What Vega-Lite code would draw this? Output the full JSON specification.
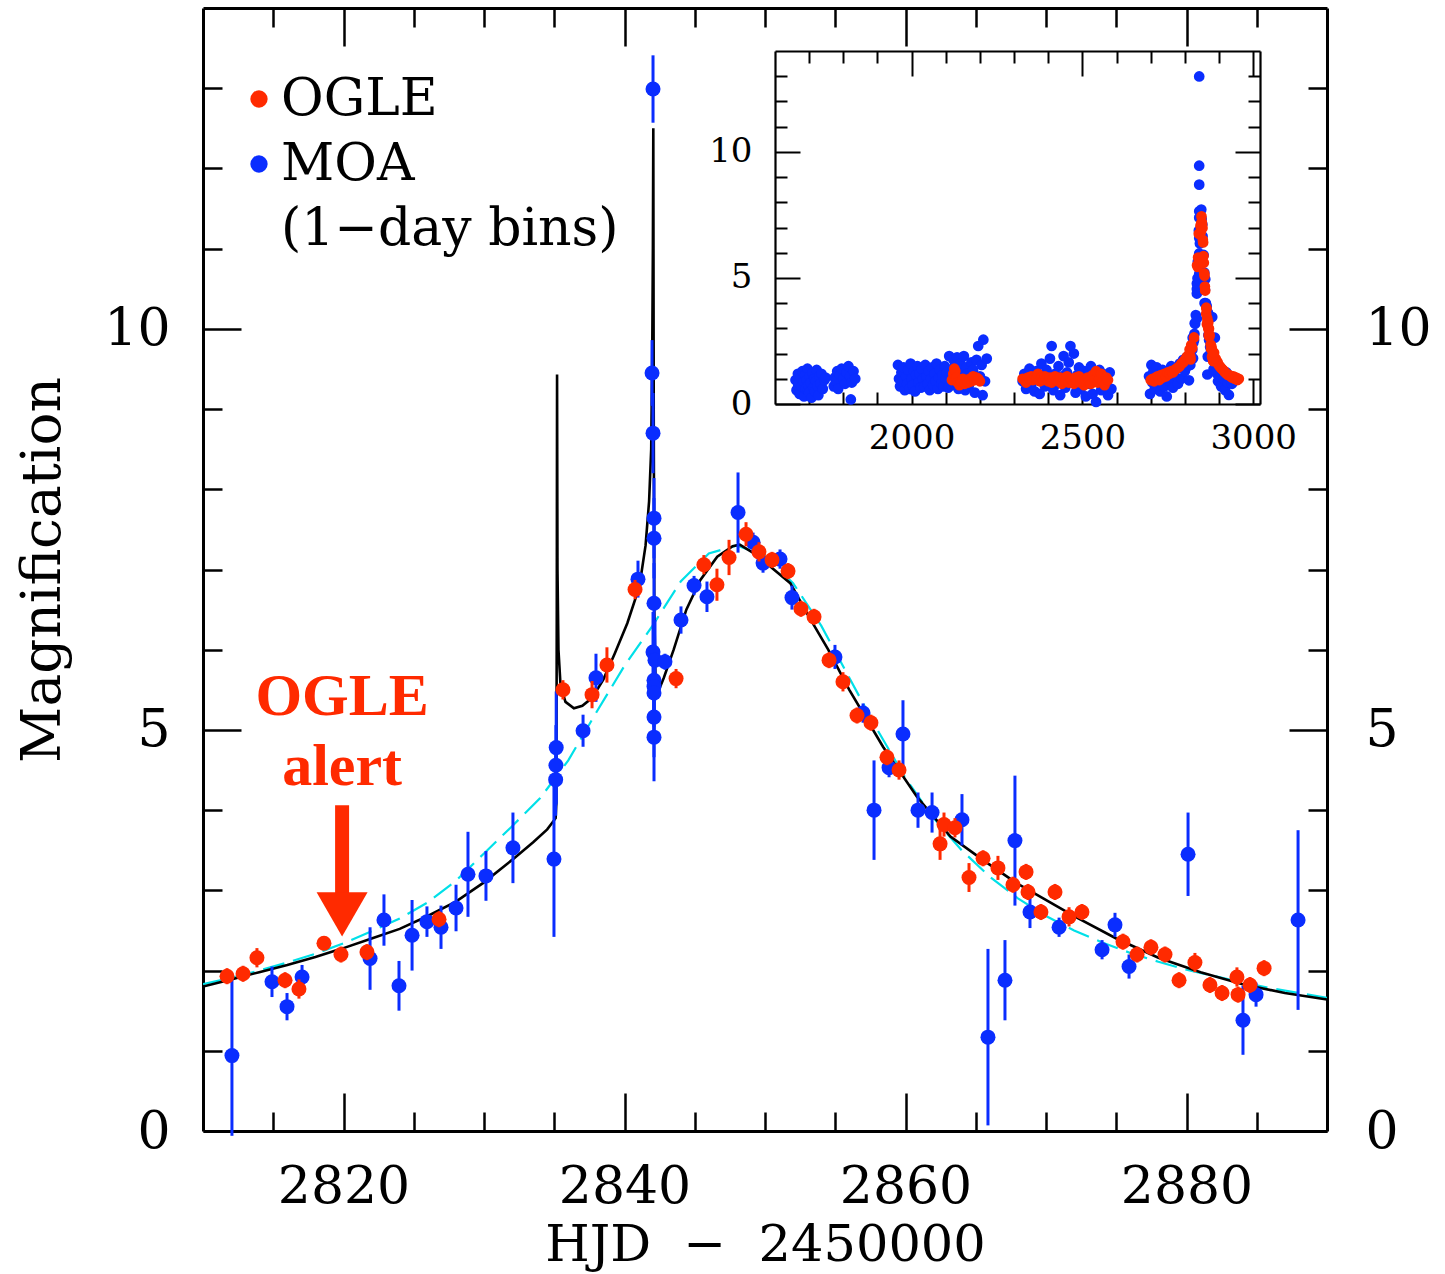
{
  "$schema": "https://vega.github.io/schema/vega-lite/v6.json",
  "width": 1124,
  "height": 1123,
  "autosize": "none",
  "padding": {"left": 203, "top": 8, "right": 118, "bottom": 143},
  "background": "white",
  "config": {
    "view": {"stroke": null},
    "font": "DejaVu Serif",
    "axis": {"grid": false, "domainColor": "black", "tickColor": "black", "labelColor": "black", "titleColor": "black", "labelFont": "DejaVu Serif", "titleFont": "DejaVu Serif", "titleFontWeight": "normal", "labelFlush": false, "labelOverlap": false, "labelBound": false, "format": "d"}
  },
  "datasets": {
    "ogle": [
      {"t": 2811.71, "mag": 1.93, "err": 0.1}, {"t": 2812.85, "mag": 1.96, "err": 0.1}, {"t": 2813.84, "mag": 2.16, "err": 0.12},
      {"t": 2815.84, "mag": 1.88, "err": 0.1}, {"t": 2816.83, "mag": 1.77, "err": 0.12}, {"t": 2818.61, "mag": 2.34, "err": 0.08},
      {"t": 2819.82, "mag": 2.2, "err": 0.1}, {"t": 2821.67, "mag": 2.23, "err": 0.1}, {"t": 2826.8, "mag": 2.64, "err": 0.1},
      {"t": 2835.62, "mag": 5.5, "err": 0.12}, {"t": 2837.69, "mag": 5.44, "err": 0.17}, {"t": 2838.75, "mag": 5.81, "err": 0.22},
      {"t": 2840.75, "mag": 6.75, "err": 0.12}, {"t": 2843.67, "mag": 5.64, "err": 0.12}, {"t": 2845.65, "mag": 7.06, "err": 0.12},
      {"t": 2846.58, "mag": 6.81, "err": 0.2}, {"t": 2847.44, "mag": 7.15, "err": 0.22}, {"t": 2848.65, "mag": 7.44, "err": 0.15},
      {"t": 2849.57, "mag": 7.22, "err": 0.12}, {"t": 2850.5, "mag": 7.12, "err": 0.1}, {"t": 2851.64, "mag": 6.98, "err": 0.1},
      {"t": 2852.56, "mag": 6.51, "err": 0.1}, {"t": 2853.49, "mag": 6.41, "err": 0.1}, {"t": 2854.56, "mag": 5.87, "err": 0.1},
      {"t": 2855.55, "mag": 5.6, "err": 0.12}, {"t": 2856.55, "mag": 5.18, "err": 0.1}, {"t": 2857.54, "mag": 5.09, "err": 0.1},
      {"t": 2858.68, "mag": 4.66, "err": 0.1}, {"t": 2859.54, "mag": 4.5, "err": 0.12}, {"t": 2862.46, "mag": 3.58, "err": 0.2},
      {"t": 2862.74, "mag": 3.82, "err": 0.15}, {"t": 2863.52, "mag": 3.78, "err": 0.12}, {"t": 2864.52, "mag": 3.16, "err": 0.18},
      {"t": 2865.52, "mag": 3.4, "err": 0.1}, {"t": 2866.58, "mag": 3.28, "err": 0.15}, {"t": 2867.65, "mag": 3.07, "err": 0.1},
      {"t": 2868.58, "mag": 3.23, "err": 0.1}, {"t": 2868.72, "mag": 2.98, "err": 0.1}, {"t": 2869.64, "mag": 2.73, "err": 0.1},
      {"t": 2870.64, "mag": 2.98, "err": 0.1}, {"t": 2871.64, "mag": 2.67, "err": 0.12}, {"t": 2872.56, "mag": 2.73, "err": 0.1},
      {"t": 2875.48, "mag": 2.36, "err": 0.1}, {"t": 2876.48, "mag": 2.2, "err": 0.1}, {"t": 2877.47, "mag": 2.29, "err": 0.1},
      {"t": 2878.47, "mag": 2.2, "err": 0.1}, {"t": 2879.47, "mag": 1.88, "err": 0.1}, {"t": 2880.6, "mag": 2.1, "err": 0.12},
      {"t": 2881.67, "mag": 1.82, "err": 0.1}, {"t": 2882.53, "mag": 1.72, "err": 0.1}, {"t": 2883.59, "mag": 1.92, "err": 0.12},
      {"t": 2883.67, "mag": 1.7, "err": 0.1}, {"t": 2884.52, "mag": 1.82, "err": 0.1}, {"t": 2885.52, "mag": 2.03, "err": 0.1}
    ],
    "moa": [
      {"t": 2812.06, "mag": 0.94, "err": 1.0}, {"t": 2814.91, "mag": 1.86, "err": 0.19}, {"t": 2815.98, "mag": 1.55, "err": 0.17},
      {"t": 2817.05, "mag": 1.92, "err": 0.15}, {"t": 2821.89, "mag": 2.15, "err": 0.39}, {"t": 2822.88, "mag": 2.63, "err": 0.32},
      {"t": 2823.95, "mag": 1.81, "err": 0.31}, {"t": 2824.88, "mag": 2.44, "err": 0.44}, {"t": 2825.94, "mag": 2.61, "err": 0.19},
      {"t": 2826.94, "mag": 2.54, "err": 0.27}, {"t": 2828.01, "mag": 2.78, "err": 0.29}, {"t": 2828.86, "mag": 3.2, "err": 0.53},
      {"t": 2830.14, "mag": 3.18, "err": 0.31}, {"t": 2832.06, "mag": 3.53, "err": 0.44}, {"t": 2834.98, "mag": 3.39, "err": 0.97},
      {"t": 2835.1, "mag": 4.38, "err": 0.45}, {"t": 2835.12, "mag": 4.56, "err": 0.5}, {"t": 2835.14, "mag": 4.78, "err": 0.7},
      {"t": 2837.05, "mag": 4.99, "err": 0.2}, {"t": 2837.97, "mag": 5.65, "err": 0.3}, {"t": 2840.96, "mag": 6.88, "err": 0.23},
      {"t": 2842.03, "mag": 12.99, "err": 0.42}, {"t": 2841.96, "mag": 9.45, "err": 0.41}, {"t": 2842.03, "mag": 8.7, "err": 0.5},
      {"t": 2842.1, "mag": 7.64, "err": 0.5}, {"t": 2842.1, "mag": 7.39, "err": 0.5}, {"t": 2842.1, "mag": 6.58, "err": 0.5},
      {"t": 2842.03, "mag": 5.97, "err": 0.5}, {"t": 2842.17, "mag": 5.87, "err": 0.5}, {"t": 2842.1, "mag": 5.62, "err": 0.5},
      {"t": 2842.1, "mag": 5.54, "err": 0.5}, {"t": 2842.1, "mag": 5.46, "err": 0.5}, {"t": 2842.1, "mag": 5.16, "err": 0.5},
      {"t": 2842.1, "mag": 4.91, "err": 0.55}, {"t": 2842.88, "mag": 5.85, "err": 0.1}, {"t": 2844.02, "mag": 6.37, "err": 0.17},
      {"t": 2844.95, "mag": 6.8, "err": 0.12}, {"t": 2845.87, "mag": 6.66, "err": 0.19}, {"t": 2848.08, "mag": 7.71, "err": 0.5},
      {"t": 2849.15, "mag": 7.34, "err": 0.12}, {"t": 2849.86, "mag": 7.08, "err": 0.12}, {"t": 2851.07, "mag": 7.13, "err": 0.12},
      {"t": 2851.92, "mag": 6.65, "err": 0.15}, {"t": 2854.98, "mag": 5.91, "err": 0.15}, {"t": 2856.98, "mag": 5.21, "err": 0.12},
      {"t": 2857.76, "mag": 4.0, "err": 0.62}, {"t": 2858.83, "mag": 4.53, "err": 0.12}, {"t": 2859.82, "mag": 4.95, "err": 0.42},
      {"t": 2860.89, "mag": 4.0, "err": 0.22}, {"t": 2861.89, "mag": 3.97, "err": 0.25}, {"t": 2864.02, "mag": 3.88, "err": 0.32},
      {"t": 2865.87, "mag": 1.17, "err": 1.1}, {"t": 2867.08, "mag": 1.88, "err": 0.5}, {"t": 2867.79, "mag": 3.62, "err": 0.81},
      {"t": 2868.86, "mag": 2.73, "err": 0.2}, {"t": 2870.93, "mag": 2.54, "err": 0.12}, {"t": 2873.99, "mag": 2.26, "err": 0.12},
      {"t": 2874.91, "mag": 2.57, "err": 0.15}, {"t": 2875.91, "mag": 2.05, "err": 0.15}, {"t": 2880.11, "mag": 3.45, "err": 0.52},
      {"t": 2884.02, "mag": 1.38, "err": 0.43}, {"t": 2884.95, "mag": 1.7, "err": 0.15}, {"t": 2887.94, "mag": 2.63, "err": 1.12}
    ],
    "model": [
      {"t": 2810, "mag": 1.8}, {"t": 2812, "mag": 1.89}, {"t": 2814, "mag": 1.98}, {"t": 2816, "mag": 2.07},
      {"t": 2818, "mag": 2.17}, {"t": 2820, "mag": 2.28}, {"t": 2822, "mag": 2.4}, {"t": 2824, "mag": 2.52},
      {"t": 2826, "mag": 2.68}, {"t": 2828, "mag": 2.86}, {"t": 2830, "mag": 3.1}, {"t": 2832, "mag": 3.38},
      {"t": 2833.5, "mag": 3.6}, {"t": 2834.5, "mag": 3.76}, {"t": 2835.1, "mag": 3.9}, {"t": 2835.15, "mag": 4.1},
      {"t": 2835.18, "mag": 6.5}, {"t": 2835.2, "mag": 9.43}, {"t": 2835.23, "mag": 7.0}, {"t": 2835.3, "mag": 6.0},
      {"t": 2835.45, "mag": 5.55}, {"t": 2835.8, "mag": 5.35}, {"t": 2836.4, "mag": 5.27}, {"t": 2837.0, "mag": 5.3},
      {"t": 2837.7, "mag": 5.4}, {"t": 2838.5, "mag": 5.63}, {"t": 2839.3, "mag": 5.95}, {"t": 2840.2, "mag": 6.33},
      {"t": 2840.8, "mag": 6.65}, {"t": 2841.2, "mag": 6.95}, {"t": 2841.5, "mag": 7.3}, {"t": 2841.75, "mag": 7.85},
      {"t": 2841.9, "mag": 8.5}, {"t": 2841.97, "mag": 9.6}, {"t": 2842.02, "mag": 11.0}, {"t": 2842.05, "mag": 12.5},
      {"t": 2842.08, "mag": 9.0}, {"t": 2842.12, "mag": 6.5}, {"t": 2842.2, "mag": 5.7}, {"t": 2842.45, "mag": 5.5},
      {"t": 2842.8, "mag": 5.65}, {"t": 2843.5, "mag": 6.0}, {"t": 2844.4, "mag": 6.5}, {"t": 2845.4, "mag": 6.87},
      {"t": 2846.6, "mag": 7.16}, {"t": 2847.7, "mag": 7.29}, {"t": 2848.2, "mag": 7.31}, {"t": 2849.6, "mag": 7.16},
      {"t": 2850.5, "mag": 7.02}, {"t": 2851.8, "mag": 6.83}, {"t": 2853, "mag": 6.45}, {"t": 2854.5, "mag": 6.0},
      {"t": 2856, "mag": 5.5}, {"t": 2858.4, "mag": 4.79}, {"t": 2860.8, "mag": 4.17}, {"t": 2863.2, "mag": 3.67},
      {"t": 2865.5, "mag": 3.38}, {"t": 2867.9, "mag": 3.09}, {"t": 2869.8, "mag": 2.9}, {"t": 2872, "mag": 2.68},
      {"t": 2875, "mag": 2.4}, {"t": 2878, "mag": 2.16}, {"t": 2881, "mag": 1.98}, {"t": 2884, "mag": 1.83},
      {"t": 2887, "mag": 1.72}, {"t": 2890, "mag": 1.64}
    ],
    "single": [
      {"t": 2810, "mag": 1.83}, {"t": 2812, "mag": 1.91}, {"t": 2814, "mag": 2.0}, {"t": 2816, "mag": 2.1},
      {"t": 2818, "mag": 2.21}, {"t": 2820, "mag": 2.34}, {"t": 2822, "mag": 2.49}, {"t": 2824, "mag": 2.65},
      {"t": 2826, "mag": 2.85}, {"t": 2828, "mag": 3.12}, {"t": 2830, "mag": 3.46}, {"t": 2832, "mag": 3.8},
      {"t": 2834, "mag": 4.15}, {"t": 2836, "mag": 4.62}, {"t": 2838, "mag": 5.22}, {"t": 2840, "mag": 5.8},
      {"t": 2842, "mag": 6.3}, {"t": 2844, "mag": 6.85}, {"t": 2846, "mag": 7.2}, {"t": 2848, "mag": 7.3},
      {"t": 2850, "mag": 7.17}, {"t": 2852, "mag": 6.83}, {"t": 2854, "mag": 6.3}, {"t": 2856, "mag": 5.65},
      {"t": 2858, "mag": 5.0}, {"t": 2860, "mag": 4.4}, {"t": 2862, "mag": 3.9}, {"t": 2864, "mag": 3.5},
      {"t": 2866, "mag": 3.17}, {"t": 2868, "mag": 2.9}, {"t": 2870, "mag": 2.68}, {"t": 2872, "mag": 2.5},
      {"t": 2874, "mag": 2.35}, {"t": 2876, "mag": 2.22}, {"t": 2878, "mag": 2.11}, {"t": 2880, "mag": 2.01},
      {"t": 2883, "mag": 1.89}, {"t": 2886, "mag": 1.78}, {"t": 2890, "mag": 1.66}
    ],
    "moa_base": [
      {"t": 1660, "mag": 0.95}, {"t": 1663, "mag": 0.55}, {"t": 1667, "mag": 1.2}, {"t": 1668, "mag": 0.75}, {"t": 1670, "mag": 0.85},
      {"t": 1672, "mag": 0.4}, {"t": 1675, "mag": 1.05}, {"t": 1678, "mag": 0.7}, {"t": 1680, "mag": 1.3}, {"t": 1683, "mag": 0.9},
      {"t": 1685, "mag": 0.3}, {"t": 1688, "mag": 1.15}, {"t": 1690, "mag": 0.6}, {"t": 1693, "mag": 0.95}, {"t": 1695, "mag": 1.4},
      {"t": 1697, "mag": 0.55}, {"t": 1698, "mag": 0.75}, {"t": 1700, "mag": 0.45}, {"t": 1702, "mag": 1.1}, {"t": 1705, "mag": 0.85},
      {"t": 1707, "mag": 0.25}, {"t": 1710, "mag": 1.25}, {"t": 1712, "mag": 0.65}, {"t": 1715, "mag": 1.0}, {"t": 1717, "mag": 0.5},
      {"t": 1720, "mag": 0.9}, {"t": 1722, "mag": 1.35}, {"t": 1725, "mag": 0.7}, {"t": 1727, "mag": 0.35}, {"t": 1730, "mag": 1.1},
      {"t": 1733, "mag": 0.8}, {"t": 1736, "mag": 1.2}, {"t": 1740, "mag": 0.6}, {"t": 1745, "mag": 0.95}, {"t": 1748, "mag": 1.05},
      {"t": 1772, "mag": 0.7}, {"t": 1775, "mag": 1.05}, {"t": 1778, "mag": 0.9}, {"t": 1782, "mag": 1.3}, {"t": 1785, "mag": 0.6},
      {"t": 1790, "mag": 1.15}, {"t": 1795, "mag": 1.4}, {"t": 1800, "mag": 1.0}, {"t": 1805, "mag": 0.8}, {"t": 1810, "mag": 1.25},
      {"t": 1815, "mag": 1.5}, {"t": 1820, "mag": 1.1}, {"t": 1822, "mag": 0.18}, {"t": 1825, "mag": 0.85}, {"t": 1830, "mag": 1.3},
      {"t": 1835, "mag": 1.0},
      {"t": 1960, "mag": 1.55}, {"t": 1963, "mag": 1.0}, {"t": 1966, "mag": 0.7}, {"t": 1970, "mag": 1.25}, {"t": 1973, "mag": 0.9},
      {"t": 1977, "mag": 1.45}, {"t": 1980, "mag": 0.55}, {"t": 1984, "mag": 1.1}, {"t": 1987, "mag": 0.8}, {"t": 1990, "mag": 1.35},
      {"t": 1994, "mag": 0.6}, {"t": 1997, "mag": 1.6}, {"t": 2000, "mag": 1.0}, {"t": 2003, "mag": 0.75}, {"t": 2007, "mag": 1.3},
      {"t": 2010, "mag": 0.5}, {"t": 2013, "mag": 1.15}, {"t": 2017, "mag": 1.5}, {"t": 2020, "mag": 0.85}, {"t": 2023, "mag": 1.2},
      {"t": 2027, "mag": 0.65}, {"t": 2030, "mag": 1.4}, {"t": 2033, "mag": 1.0}, {"t": 2037, "mag": 0.7}, {"t": 2040, "mag": 1.55},
      {"t": 2043, "mag": 1.1}, {"t": 2047, "mag": 0.8}, {"t": 2050, "mag": 1.3}, {"t": 2053, "mag": 0.55}, {"t": 2057, "mag": 1.0},
      {"t": 2060, "mag": 1.45}, {"t": 2063, "mag": 0.75}, {"t": 2067, "mag": 1.2}, {"t": 2070, "mag": 0.9}, {"t": 2073, "mag": 1.6},
      {"t": 2077, "mag": 0.6}, {"t": 2080, "mag": 1.05}, {"t": 2083, "mag": 1.35}, {"t": 2087, "mag": 0.8}, {"t": 2090, "mag": 1.15},
      {"t": 2093, "mag": 0.7}, {"t": 2097, "mag": 1.5}, {"t": 2100, "mag": 1.0}, {"t": 2103, "mag": 1.25}, {"t": 2107, "mag": 0.65},
      {"t": 2110, "mag": 1.9}, {"t": 2113, "mag": 1.1}, {"t": 2117, "mag": 0.75}, {"t": 2120, "mag": 1.4}, {"t": 2123, "mag": 1.75},
      {"t": 2127, "mag": 0.9}, {"t": 2130, "mag": 1.2}, {"t": 2133, "mag": 1.85}, {"t": 2137, "mag": 0.6}, {"t": 2140, "mag": 1.3},
      {"t": 2143, "mag": 1.6}, {"t": 2147, "mag": 0.85}, {"t": 2150, "mag": 1.05}, {"t": 2153, "mag": 1.9}, {"t": 2157, "mag": 0.55},
      {"t": 2160, "mag": 1.45}, {"t": 2163, "mag": 1.2}, {"t": 2167, "mag": 0.7}, {"t": 2170, "mag": 1.0}, {"t": 2175, "mag": 1.65},
      {"t": 2180, "mag": 1.35}, {"t": 2185, "mag": 0.45}, {"t": 2190, "mag": 1.75}, {"t": 2195, "mag": 2.3}, {"t": 2200, "mag": 1.1},
      {"t": 2205, "mag": 1.55}, {"t": 2208, "mag": 0.35}, {"t": 2210, "mag": 2.55}, {"t": 2215, "mag": 0.9}, {"t": 2220, "mag": 1.8},
      {"t": 2325, "mag": 0.9}, {"t": 2330, "mag": 1.2}, {"t": 2335, "mag": 0.6}, {"t": 2340, "mag": 1.05}, {"t": 2345, "mag": 1.4},
      {"t": 2350, "mag": 0.75}, {"t": 2355, "mag": 1.15}, {"t": 2360, "mag": 0.5}, {"t": 2365, "mag": 1.3}, {"t": 2370, "mag": 0.95},
      {"t": 2375, "mag": 0.4}, {"t": 2380, "mag": 1.6}, {"t": 2385, "mag": 1.05}, {"t": 2390, "mag": 0.7}, {"t": 2395, "mag": 1.35},
      {"t": 2400, "mag": 0.9}, {"t": 2405, "mag": 1.8}, {"t": 2410, "mag": 2.3}, {"t": 2415, "mag": 0.55}, {"t": 2420, "mag": 1.2},
      {"t": 2425, "mag": 0.8}, {"t": 2430, "mag": 1.5}, {"t": 2435, "mag": 0.35}, {"t": 2440, "mag": 1.1}, {"t": 2445, "mag": 1.9},
      {"t": 2450, "mag": 0.65}, {"t": 2455, "mag": 1.25}, {"t": 2460, "mag": 1.65}, {"t": 2465, "mag": 2.3}, {"t": 2470, "mag": 0.85},
      {"t": 2475, "mag": 2.0}, {"t": 2480, "mag": 0.45}, {"t": 2485, "mag": 1.15}, {"t": 2490, "mag": 1.45}, {"t": 2495, "mag": 0.6},
      {"t": 2500, "mag": 1.0}, {"t": 2505, "mag": 1.3}, {"t": 2510, "mag": 0.3}, {"t": 2515, "mag": 1.2}, {"t": 2520, "mag": 0.8},
      {"t": 2525, "mag": 1.5}, {"t": 2530, "mag": 0.4}, {"t": 2535, "mag": 1.1}, {"t": 2540, "mag": 0.08}, {"t": 2545, "mag": 0.95},
      {"t": 2550, "mag": 1.35}, {"t": 2555, "mag": 0.55}, {"t": 2560, "mag": 1.2}, {"t": 2565, "mag": 0.75}, {"t": 2570, "mag": 1.0},
      {"t": 2575, "mag": 0.35}, {"t": 2580, "mag": 1.25}, {"t": 2585, "mag": 0.6},
      {"t": 2695, "mag": 1.1}, {"t": 2698, "mag": 0.4}, {"t": 2702, "mag": 1.55}, {"t": 2705, "mag": 0.85}, {"t": 2708, "mag": 1.3},
      {"t": 2712, "mag": 0.6}, {"t": 2715, "mag": 1.05}, {"t": 2718, "mag": 1.45}, {"t": 2722, "mag": 0.75}, {"t": 2725, "mag": 1.2},
      {"t": 2728, "mag": 0.5}, {"t": 2732, "mag": 0.95}, {"t": 2735, "mag": 1.35}, {"t": 2740, "mag": 0.7}, {"t": 2743, "mag": 1.1},
      {"t": 2747, "mag": 0.3}, {"t": 2750, "mag": 1.25}, {"t": 2755, "mag": 0.9}, {"t": 2760, "mag": 1.5}, {"t": 2765, "mag": 0.65},
      {"t": 2770, "mag": 1.15}, {"t": 2775, "mag": 1.4}, {"t": 2780, "mag": 0.8}, {"t": 2785, "mag": 1.6}, {"t": 2790, "mag": 1.0},
      {"t": 2795, "mag": 1.75}, {"t": 2800, "mag": 1.3}, {"t": 2805, "mag": 1.85}, {"t": 2808, "mag": 1.5},
      {"t": 2891, "mag": 1.7}, {"t": 2894, "mag": 1.2}, {"t": 2897, "mag": 0.9}, {"t": 2900, "mag": 1.5}, {"t": 2903, "mag": 1.05},
      {"t": 2906, "mag": 0.7}, {"t": 2910, "mag": 1.3}, {"t": 2914, "mag": 1.0}, {"t": 2918, "mag": 0.55}, {"t": 2922, "mag": 1.25},
      {"t": 2926, "mag": 0.85}, {"t": 2929, "mag": 0.36}, {"t": 2933, "mag": 1.1}, {"t": 2938, "mag": 0.8}, {"t": 2942, "mag": 1.0}
    ],
    "ogle_base": [
      {"t": 2118, "mag": 0.95}, {"t": 2122, "mag": 1.2}, {"t": 2125, "mag": 1.4}, {"t": 2128, "mag": 1.3}, {"t": 2131, "mag": 1.05},
      {"t": 2135, "mag": 0.85}, {"t": 2140, "mag": 0.75}, {"t": 2145, "mag": 0.9}, {"t": 2150, "mag": 1.0}, {"t": 2155, "mag": 0.8},
      {"t": 2160, "mag": 0.95}, {"t": 2165, "mag": 0.85}, {"t": 2170, "mag": 1.0}, {"t": 2175, "mag": 0.9}, {"t": 2180, "mag": 1.1},
      {"t": 2185, "mag": 0.95}, {"t": 2190, "mag": 1.05}, {"t": 2195, "mag": 1.0}, {"t": 2200, "mag": 0.9},
      {"t": 2325, "mag": 1.0}, {"t": 2330, "mag": 0.95}, {"t": 2335, "mag": 0.85}, {"t": 2340, "mag": 1.05}, {"t": 2345, "mag": 1.0},
      {"t": 2350, "mag": 1.1}, {"t": 2355, "mag": 0.95}, {"t": 2360, "mag": 1.05}, {"t": 2365, "mag": 1.0}, {"t": 2370, "mag": 1.2},
      {"t": 2375, "mag": 0.9}, {"t": 2380, "mag": 1.05}, {"t": 2385, "mag": 0.95}, {"t": 2390, "mag": 1.1}, {"t": 2395, "mag": 1.0},
      {"t": 2400, "mag": 0.9}, {"t": 2405, "mag": 1.05}, {"t": 2410, "mag": 0.85}, {"t": 2415, "mag": 1.0}, {"t": 2420, "mag": 1.1},
      {"t": 2425, "mag": 0.95}, {"t": 2430, "mag": 0.9}, {"t": 2435, "mag": 1.05}, {"t": 2440, "mag": 0.8}, {"t": 2445, "mag": 1.0},
      {"t": 2450, "mag": 0.9}, {"t": 2455, "mag": 1.1}, {"t": 2460, "mag": 0.85}, {"t": 2465, "mag": 1.0}, {"t": 2470, "mag": 0.95},
      {"t": 2475, "mag": 0.8}, {"t": 2480, "mag": 1.05}, {"t": 2485, "mag": 0.9}, {"t": 2490, "mag": 1.1}, {"t": 2495, "mag": 0.85},
      {"t": 2500, "mag": 1.0}, {"t": 2505, "mag": 0.75}, {"t": 2510, "mag": 0.95}, {"t": 2515, "mag": 1.05}, {"t": 2520, "mag": 0.9},
      {"t": 2525, "mag": 0.8}, {"t": 2530, "mag": 1.15}, {"t": 2535, "mag": 0.95}, {"t": 2540, "mag": 1.3}, {"t": 2545, "mag": 0.85},
      {"t": 2550, "mag": 1.0}, {"t": 2555, "mag": 1.2}, {"t": 2560, "mag": 0.9}, {"t": 2565, "mag": 0.75}, {"t": 2570, "mag": 1.05},
      {"t": 2575, "mag": 0.95},
      {"t": 2700, "mag": 0.95}, {"t": 2705, "mag": 1.0}, {"t": 2710, "mag": 0.9}, {"t": 2715, "mag": 1.05}, {"t": 2720, "mag": 1.1},
      {"t": 2725, "mag": 0.95}, {"t": 2730, "mag": 1.15}, {"t": 2735, "mag": 1.05}, {"t": 2740, "mag": 1.2}, {"t": 2745, "mag": 1.1},
      {"t": 2750, "mag": 1.25}, {"t": 2755, "mag": 1.2}, {"t": 2760, "mag": 1.3}, {"t": 2765, "mag": 1.25}, {"t": 2770, "mag": 1.35},
      {"t": 2775, "mag": 1.4}, {"t": 2780, "mag": 1.45}, {"t": 2785, "mag": 1.5}, {"t": 2790, "mag": 1.6}, {"t": 2795, "mag": 1.65},
      {"t": 2800, "mag": 1.75}, {"t": 2805, "mag": 1.85}, {"t": 2808, "mag": 1.9},
      {"t": 2890, "mag": 1.8}, {"t": 2893, "mag": 1.7}, {"t": 2896, "mag": 1.65}, {"t": 2899, "mag": 1.55}, {"t": 2902, "mag": 1.5},
      {"t": 2905, "mag": 1.45}, {"t": 2908, "mag": 1.4}, {"t": 2912, "mag": 1.35}, {"t": 2915, "mag": 1.3}, {"t": 2918, "mag": 1.25},
      {"t": 2922, "mag": 1.2}, {"t": 2926, "mag": 1.15}, {"t": 2930, "mag": 1.15}, {"t": 2934, "mag": 1.1}, {"t": 2938, "mag": 1.05},
      {"t": 2942, "mag": 1.1}, {"t": 2946, "mag": 1.0}, {"t": 2950, "mag": 1.05}, {"t": 2954, "mag": 0.95}, {"t": 2958, "mag": 1.0}
    ]
  },
  "resolve": {"scale": {"x": "independent", "y": "independent"}},
  "layer": [
    {
      "resolve": {"axis": {"x": "independent", "y": "independent"}},
      "layer": [
        {
          "data": {"name": "single"},
          "mark": {"type": "line", "color": "#00e0e8", "strokeWidth": 2.2, "strokeDash": [22, 9], "clip": true},
          "encoding": {
            "x": {"field": "t", "type": "quantitative", "scale": {"domain": [2810, 2890], "nice": false, "zero": false},
              "axis": {"orient": "bottom", "values": [2820, 2840, 2860, 2880], "format": "d", "tickSize": -38, "tickWidth": 2.5, "domainWidth": 3, "labelFontSize": 52, "labelPadding": 68, "title": "HJD\u00a0\u00a0\u2212\u00a0\u00a02450000", "titleFontSize": 51, "titlePadding": 8}},
            "y": {"field": "mag", "type": "quantitative", "scale": {"domain": [0, 14], "nice": false, "zero": false},
              "axis": {"orient": "left", "values": [0, 5, 10], "format": "d", "tickSize": -38, "tickWidth": 2.5, "domainWidth": 3, "labelFontSize": 52, "labelPadding": 71, "title": "Magnification", "titleFontSize": 55, "titlePadding": 32}}
          }
        },
        {
          "data": {"name": "model"},
          "mark": {"type": "line", "color": "black", "strokeWidth": 2.6, "clip": true},
          "encoding": {
            "x": {"field": "t", "type": "quantitative",
              "axis": {"orient": "bottom", "values": [2815, 2825, 2830, 2835, 2845, 2850, 2855, 2865, 2870, 2875, 2885], "tickSize": -19, "tickWidth": 2.5, "labels": false, "domain": false, "title": null}},
            "y": {"field": "mag", "type": "quantitative",
              "axis": {"orient": "left", "values": [1, 2, 3, 4, 6, 7, 8, 9, 11, 12, 13], "tickSize": -19, "tickWidth": 2.5, "labels": false, "domain": false, "title": null}}
          }
        },
        {
          "data": {"name": "moa"},
          "mark": {"type": "errorbar", "color": "#0a2dff", "thickness": 3},
          "encoding": {
            "x": {"field": "t", "type": "quantitative", "axis": null},
            "y": {"field": "mag", "type": "quantitative", "axis": null},
            "yError": {"field": "err"}
          }
        },
        {
          "data": {"name": "moa"},
          "mark": {"type": "circle", "size": 225, "opacity": 1},
          "encoding": {
            "x": {"field": "t", "type": "quantitative",
              "axis": {"orient": "top", "values": [2820, 2840, 2860, 2880], "tickSize": -38, "tickWidth": 2.5, "domainWidth": 3, "labels": false, "title": null}},
            "y": {"field": "mag", "type": "quantitative",
              "axis": {"orient": "right", "values": [0, 5, 10], "format": "d", "tickSize": -38, "tickWidth": 2.5, "domainWidth": 3, "labelFontSize": 52, "labelPadding": 76, "title": null}},
            "color": {"datum": "MOA", "type": "nominal",
              "scale": {"domain": ["OGLE", "MOA", "(1\u2212day bins)"], "range": ["#ff2a00", "#0a2dff", "rgba(0,0,0,0)"]},
              "legend": {"orient": "none", "legendX": 30, "legendY": 65, "title": null, "labelFont": "DejaVu Serif", "labelFontSize": 52, "labelColor": "black", "labelLimit": 600, "symbolType": "circle", "symbolSize": 300, "symbolStrokeWidth": 0, "symbolOpacity": 1, "rowPadding": 13, "labelOffset": -4, "padding": 0}}
          }
        },
        {
          "data": {"name": "ogle"},
          "mark": {"type": "errorbar", "color": "#ff2a00", "thickness": 3},
          "encoding": {
            "x": {"field": "t", "type": "quantitative", "axis": null},
            "y": {"field": "mag", "type": "quantitative", "axis": null},
            "yError": {"field": "err"}
          }
        },
        {
          "data": {"name": "ogle"},
          "mark": {"type": "circle", "size": 225, "opacity": 1},
          "encoding": {
            "x": {"field": "t", "type": "quantitative",
              "axis": {"orient": "top", "values": [2815, 2825, 2830, 2835, 2845, 2850, 2855, 2865, 2870, 2875, 2885], "tickSize": -19, "tickWidth": 2.5, "labels": false, "domain": false, "title": null}},
            "y": {"field": "mag", "type": "quantitative",
              "axis": {"orient": "right", "values": [1, 2, 3, 4, 6, 7, 8, 9, 11, 12, 13], "tickSize": -19, "tickWidth": 2.5, "labels": false, "domain": false, "title": null}},
            "color": {"datum": "OGLE", "type": "nominal"}
          }
        },
        {
          "data": {"values": [{}]},
          "mark": {"type": "rule", "color": "#ff2a00", "strokeWidth": 14, "strokeCap": "butt"},
          "encoding": {
            "x": {"datum": 2819.9, "type": "quantitative", "axis": null},
            "y": {"datum": 4.06, "type": "quantitative", "axis": null},
            "y2": {"datum": 2.9}
          }
        },
        {
          "data": {"values": [{}]},
          "mark": {"type": "point", "shape": "triangle-down", "filled": true, "size": 2600, "color": "#ff2a00", "opacity": 1},
          "encoding": {
            "x": {"datum": 2819.9, "type": "quantitative", "axis": null},
            "y": {"datum": 2.7, "type": "quantitative", "axis": null}
          }
        },
        {
          "data": {"values": [{}]},
          "mark": {"type": "text", "text": ["OGLE", "alert"], "font": "Liberation Serif", "fontWeight": "bold", "fontSize": 60, "color": "#ff2a00", "align": "center", "baseline": "alphabetic", "lineHeight": 70},
          "encoding": {
            "x": {"datum": 2819.9, "type": "quantitative", "axis": null},
            "y": {"datum": 5.19, "type": "quantitative", "axis": null}
          }
        }
      ]
    },
    {
      "resolve": {"axis": {"x": "independent", "y": "independent"}},
      "layer": [
        {
          "data": {"name": "moa_base"},
          "mark": {"type": "circle", "size": 115, "opacity": 1, "color": "#0a2dff"},
          "encoding": {
            "x": {"field": "t", "type": "quantitative", "scale": {"domain": [1600, 3020], "range": [572, 1057], "nice": false, "zero": false},
              "axis": {"orient": "bottom", "offset": -727, "values": [2000, 2500, 3000], "format": "d", "tickSize": -25, "tickWidth": 2, "domainWidth": 2.2, "labelFontSize": 34, "labelPadding": 42, "title": null}},
            "y": {"field": "mag", "type": "quantitative", "scale": {"domain": [0, 14], "range": [396, 43], "nice": false, "zero": false},
              "axis": {"orient": "left", "offset": -572, "values": [0, 5, 10], "format": "d", "tickSize": -25, "tickWidth": 2, "domainWidth": 2.2, "labelFontSize": 34, "labelPadding": 48, "title": null}}
          }
        },
        {
          "data": {"name": "moa"},
          "mark": {"type": "circle", "size": 115, "opacity": 1, "color": "#0a2dff"},
          "encoding": {
            "x": {"field": "t", "type": "quantitative",
              "axis": {"orient": "bottom", "offset": -727, "values": [1700, 1800, 1900, 2100, 2200, 2300, 2400, 2600, 2700, 2800, 2900], "tickSize": -12, "tickWidth": 2, "labels": false, "domain": false, "title": null}},
            "y": {"field": "mag", "type": "quantitative",
              "axis": {"orient": "left", "offset": -572, "values": [1, 2, 3, 4, 6, 7, 8, 9, 11, 12, 13], "tickSize": -12, "tickWidth": 2, "labels": false, "domain": false, "title": null}}
          }
        },
        {
          "data": {"name": "ogle_base"},
          "mark": {"type": "circle", "size": 115, "opacity": 1, "color": "#ff2a00"},
          "encoding": {
            "x": {"field": "t", "type": "quantitative",
              "axis": {"orient": "top", "offset": -43, "values": [2000, 2500, 3000], "tickSize": -25, "tickWidth": 2, "domainWidth": 2.2, "labels": false, "title": null}},
            "y": {"field": "mag", "type": "quantitative",
              "axis": {"orient": "right", "offset": -67, "values": [0, 5, 10], "tickSize": -25, "tickWidth": 2, "domainWidth": 2.2, "labels": false, "title": null}}
          }
        },
        {
          "data": {"name": "ogle"},
          "mark": {"type": "circle", "size": 115, "opacity": 1, "color": "#ff2a00"},
          "encoding": {
            "x": {"field": "t", "type": "quantitative",
              "axis": {"orient": "top", "offset": -43, "values": [1700, 1800, 1900, 2100, 2200, 2300, 2400, 2600, 2700, 2800, 2900], "tickSize": -12, "tickWidth": 2, "labels": false, "domain": false, "title": null}},
            "y": {"field": "mag", "type": "quantitative",
              "axis": {"orient": "right", "offset": -67, "values": [1, 2, 3, 4, 6, 7, 8, 9, 11, 12, 13], "tickSize": -12, "tickWidth": 2, "labels": false, "domain": false, "title": null}}
          }
        }
      ]
    }
  ]
}
